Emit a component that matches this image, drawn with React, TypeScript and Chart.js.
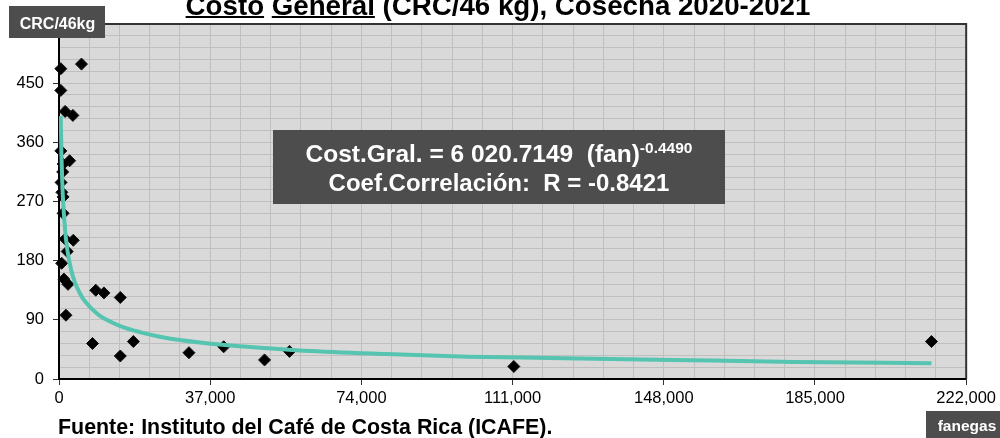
import React, { useEffect, useRef } from 'react';
import { Chart, registerables } from 'chart.js';

Chart.register(...registerables);

// Observed farms: production (fanegas) and general cost (CRC/46 kg)
const fanegas = [
  450, 5500, 450, 1500, 3400, 450, 2600, 1000, 900, 500, 700, 1000, 1000,
  1500, 3500, 2000, 650, 1200, 2200, 1700, 9000, 11000, 15000, 8200, 18200,
  15000, 31800, 40300, 50300, 56400, 111300, 213500,
];
const costo = [
  472, 479, 439, 407, 401, 347, 332, 327, 315, 299, 284, 277, 252,
  213, 211, 194, 176, 152, 144, 97, 135, 131, 124, 54, 57,
  35, 40, 49, 29, 42, 19, 57,
];

// Power trend line
const trendFanegas = [
  420, 600, 800, 1000, 1500, 2000, 3000, 4000, 5000, 6000, 8000, 10000, 13000,
  16000, 20000, 25000, 30000, 40000, 50000, 60000, 80000, 100000, 120000,
  150000, 180000, 213500,
];
const trendCosto = [
  400, 341, 299, 271, 226, 198, 165, 145, 132, 121, 107, 96, 86,
  78, 71, 64, 59, 52, 47, 43, 38, 34, 32, 29, 26, 24,
];

const xMajor = [0, 37000, 74000, 111000, 148000, 185000, 222000];
const xTickLabels = ['0', '37,000', '74,000', '111,000', '148,000', '185,000', '222,000'];
const yMajor = [0, 90, 180, 270, 360, 450];
const yTickLabels = ['0', '90', '180', '270', '360', '450'];

const titleText = 'Costo General (CRC/46 kg), Cosecha 2020-2021';
const yAxisTitle = 'CRC/46kg';
const xAxisTitle = 'fanegas';
const sourceText = 'Fuente: Instituto del Café de Costa Rica (ICAFE).';
const eqMain = 'Cost.Gral. = 6 020.7149  (fan)';
const eqExp = '-0.4490';
const eqCorr = 'Coef.Correlación:  R = -0.8421';

const FONT = "'Liberation Sans', Arial, Helvetica, sans-serif";
const BOX = '#4d4d4d';

const decor = {
  id: 'decor',
  beforeDraw(chart: any) {
    const { ctx, chartArea } = chart;
    const { left, top, width, height } = chartArea;
    ctx.save();
    ctx.fillStyle = '#d9d9d9';
    ctx.fillRect(left, top, width, height);
    ctx.restore();
  },
  beforeDatasetsDraw(chart: any) {
    const { ctx, chartArea } = chart;
    const { left, top, right, bottom } = chartArea;
    ctx.save();
    ctx.lineWidth = 2;
    ctx.strokeStyle = '#333';
    ctx.beginPath();
    ctx.moveTo(left, top);
    ctx.lineTo(right, top);
    ctx.lineTo(right, bottom);
    ctx.stroke();
    ctx.strokeStyle = '#000';
    ctx.beginPath();
    ctx.moveTo(left, top);
    ctx.lineTo(left, bottom);
    ctx.lineTo(right, bottom);
    ctx.stroke();
    ctx.restore();
  },
  afterDraw(chart: any) {
    const { ctx } = chart;
    ctx.save();
    // Title with underlined words
    ctx.font = `bold 27.7px ${FONT}`;
    ctx.fillStyle = '#000';
    ctx.textBaseline = 'alphabetic';
    ctx.textAlign = 'left';
    const tw = ctx.measureText(titleText).width;
    const tx = 498 - tw / 2;
    ctx.fillText(titleText, tx, 15);
    const wCosto = ctx.measureText('Costo').width;
    const wCostoSp = ctx.measureText('Costo ').width;
    const wGeneral = ctx.measureText('General').width;
    ctx.fillRect(tx, 16, wCosto, 2);
    ctx.fillRect(tx + wCostoSp, 16, wGeneral, 2);

    // Y axis title box
    ctx.fillStyle = BOX;
    ctx.fillRect(9, 6, 96, 32);
    ctx.fillStyle = '#fff';
    ctx.font = `bold 16px ${FONT}`;
    ctx.textAlign = 'center';
    ctx.fillText(yAxisTitle, 57.5, 29);

    // X axis title box
    ctx.fillStyle = BOX;
    ctx.fillRect(926, 411, 74, 27);
    ctx.fillStyle = '#fff';
    ctx.font = `bold 15.5px ${FONT}`;
    ctx.fillText(xAxisTitle, 967, 431);

    // Source
    ctx.fillStyle = '#000';
    ctx.font = `bold 21.4px ${FONT}`;
    ctx.textAlign = 'left';
    ctx.fillText(sourceText, 58, 434);

    // Equation box
    ctx.fillStyle = BOX;
    ctx.fillRect(273, 130, 452, 74);
    ctx.fillStyle = '#fff';
    ctx.font = `bold 24.5px ${FONT}`;
    const wMain = ctx.measureText(eqMain).width;
    ctx.font = `bold 15.5px ${FONT}`;
    const wExp = ctx.measureText(eqExp).width;
    const ex = 499 - (wMain + wExp) / 2;
    ctx.font = `bold 24.5px ${FONT}`;
    ctx.fillText(eqMain, ex, 162);
    ctx.font = `bold 15.5px ${FONT}`;
    ctx.fillText(eqExp, ex + wMain, 153);
    ctx.font = `bold 24px ${FONT}`;
    ctx.textAlign = 'center';
    ctx.fillText(eqCorr, 499, 191);
    ctx.restore();
  },
};

export default function App() {
  const ref = useRef<HTMLCanvasElement | null>(null);

  useEffect(() => {
    document.body.style.margin = '0';
    const canvas = ref.current;
    if (!canvas) return;
    const points = fanegas.map((f, i) => ({ x: f, y: costo[i] }));
    const trend = trendFanegas.map((f, i) => ({ x: f, y: trendCosto[i] }));

    const chart = new Chart(canvas, {
      type: 'scatter',
      data: {
        datasets: [
          {
            type: 'line',
            label: 'Tendencia',
            data: trend,
            borderColor: '#55c4b0',
            borderWidth: 4,
            pointRadius: 0,
            showLine: true,
            fill: false,
            cubicInterpolationMode: 'monotone',
            order: 0,
          } as any,
          {
            label: 'Costo',
            data: points,
            pointStyle: 'rectRot',
            pointRadius: 6,
            backgroundColor: '#000',
            borderColor: '#111',
            borderWidth: 1,
            clip: false,
            order: 1,
          } as any,
        ],
      },
      options: {
        responsive: false,
        animation: false,
        events: [],
        layout: { padding: { left: 0, top: 24, right: 32, bottom: 0 } },
        plugins: {
          legend: { display: false },
          tooltip: { enabled: false },
          title: { display: false },
        },
        scales: {
          x: {
            type: 'linear',
            min: 0,
            max: 222000,
            border: { display: false },
            grid: {
              color: '#bfbfbf',
              lineWidth: 1,
              drawTicks: true,
              tickLength: 6,
              tickColor: (c: any) =>
                xMajor.includes(c.tick?.value) ? '#333' : 'rgba(0,0,0,0)',
            },
            ticks: {
              stepSize: 7400,
              autoSkip: false,
              maxRotation: 0,
              padding: 4,
              color: '#000',
              font: { family: FONT, size: 16.5 },
              callback: (v: any) => {
                const i = xMajor.indexOf(Number(v));
                return i >= 0 ? xTickLabels[i] : '';
              },
            },
            afterFit: (s: any) => {
              s.height = 59;
            },
          },
          y: {
            type: 'linear',
            min: 0,
            max: 540,
            border: { display: false },
            grid: {
              color: '#bfbfbf',
              lineWidth: 1,
              drawTicks: true,
              tickLength: 6,
              tickColor: (c: any) =>
                yMajor.includes(c.tick?.value) ? '#333' : 'rgba(0,0,0,0)',
            },
            ticks: {
              stepSize: 18,
              autoSkip: false,
              padding: 9,
              color: '#000',
              font: { family: FONT, size: 16.5 },
              callback: (v: any) => {
                const i = yMajor.indexOf(Number(v));
                return i >= 0 ? yTickLabels[i] : '';
              },
            },
            afterFit: (s: any) => {
              s.width = 59;
            },
          },
        },
      },
      plugins: [decor],
    } as any);

    return () => chart.destroy();
  }, []);

  return (
    <div style={{ width: 1000, height: 438 }}>
      <canvas ref={ref} width={1000} height={438} style={{ display: 'block' }} />
    </div>
  );
}
